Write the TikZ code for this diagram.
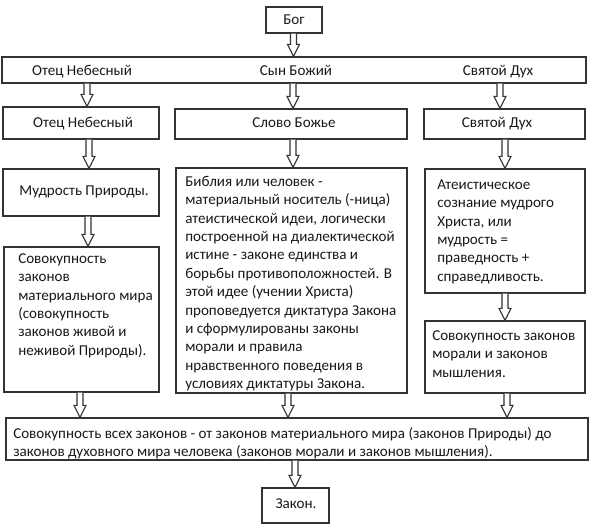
\documentclass[tikz,border=0pt]{standalone}
\usepackage{fontspec}
\setmainfont{Carlito}
\usetikzlibrary{calc,fit}
\newcommand\fl{\rule{0pt}{10pt}}
\tikzset{
  box/.style={draw=black!80, line width=0.9pt, inner sep=0pt},
  txt/.style={inner sep=0pt, text=black!90, font=\fontsize{11.3}{13.8}\selectfont},
  ml/.style={txt, align=left, anchor=north west},
  one/.style={txt, anchor=base},
  barrow/.style={draw=black!80, line width=0.8pt, fill=white, line join=miter},
}
\newcommand\mkbox[5]{\node[box, fit={(#2,#3) (#4,#5)}] (#1) {};}
\newcommand\blockarrow[3]{%
  \draw[barrow] let \p1=(#2.south), \p2=(#3.north), \p3=(#1,0) in
     (\x3-2.25pt,\y1) -- (\x3-2.25pt,\y2+9pt) -- (\x3-4.5pt,\y2+9pt) -- (\x3,\y2)
     -- (\x3+4.5pt,\y2+9pt) -- (\x3+2.25pt,\y2+9pt) -- (\x3+2.25pt,\y1);
}
\begin{document}
\begin{tikzpicture}[x=0.75pt,y=-0.75pt]
\useasboundingbox[fill=white] (0,0) rectangle (591,530);
% boxes
\mkbox{bog}{266}{7}{322}{33}
\mkbox{row}{2}{57}{586}{83}
\mkbox{l2a}{3}{107}{159}{139}
\mkbox{l2b}{175}{109}{407}{139}
\mkbox{l2c}{424}{109}{585}{139}
\mkbox{l3a}{3}{169}{159}{216}
\mkbox{l3b}{176}{168}{407}{393}
\mkbox{l3c}{425}{169}{585}{293}
\mkbox{l4a}{4}{247}{159}{392}
\mkbox{l4c}{425}{321}{585}{393}
\mkbox{bottombox}{6}{418}{588}{460}
\mkbox{zak}{262}{488}{329}{523}
% texts
\node[one] (tbog) at (294,25) {Бог};
\node[one] (tr1) at (82,76) {Отец Небесный};
\node[one] (tr2) at (296,76) {Сын Божий};
\node[one] (tr3) at (498,76) {Святой Дух};
\node[one] (t2a) at (83,128) {Отец Небесный};
\node[one] (t2b) at (294,128) {Слово Божье};
\node[one] (t2c) at (497,128) {Святой Дух};
\node[one] (t3a) at (84,196) {Мудрость Природы.};
\node[ml] (t3b) at (185,172.67) {\fl Библия или человек -\\материальный носитель (-ница)\\атеистической идеи, логически\\построенной на диалектической\\истине - законе единства и\\борьбы противоположностей. В\\этой идее (учении Христа)\\проповедуется диктатура Закона\\и сформулированы законы\\морали и правила\\нравственного поведения в\\условиях диктатуры Закона.};
\node[ml] (t3c) at (437,175.67) {\fl Атеистическое\\сознание мудрого\\Христа, или\\мудрость =\\праведность +\\справедливость.};
\node[ml] (t4a) at (18,249.67) {\fl Совокупность\\законов\\материального мира\\(совокупность\\законов живой и\\неживой Природы).};
\node[ml] (t4c) at (432,326.67) {\fl Совокупность законов\\морали и законов\\мышления.};
\node[ml] (tbot) at (13,424.67) {\fl Совокупность всех законов - от законов материального мира (законов Природы) до\\законов духовного мира человека (законов морали и законов мышления).};
\node[one] (tzak) at (296,508) {Закон.};
% arrows
\blockarrow{293.5}{bog}{row}
\blockarrow{87}{row}{l2a}
\blockarrow{293}{row}{l2b}
\blockarrow{500}{row}{l2c}
\blockarrow{89}{l2a}{l3a}
\blockarrow{293}{l2b}{l3b}
\blockarrow{505}{l2c}{l3c}
\blockarrow{88}{l3a}{l4a}
\blockarrow{505}{l3c}{l4c}
\blockarrow{80}{l4a}{bottombox}
\blockarrow{288}{l3b}{bottombox}
\blockarrow{507}{l4c}{bottombox}
\blockarrow{295}{bottombox}{zak}
\end{tikzpicture}
\end{document}
